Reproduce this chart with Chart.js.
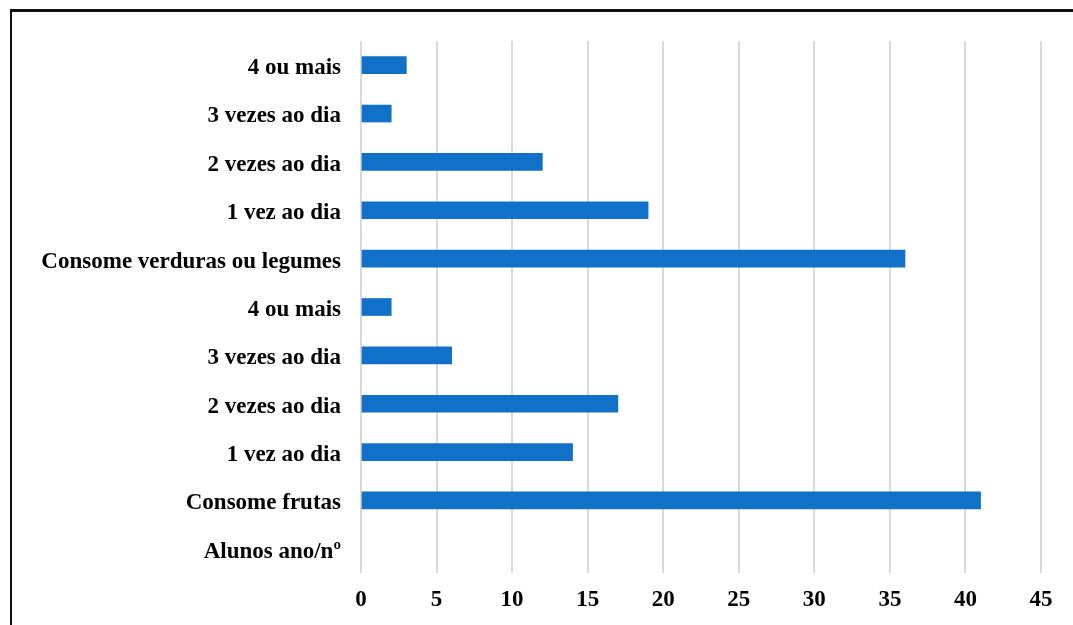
<!DOCTYPE html>
<html>
<head>
<meta charset="utf-8">
<script src="https://cdn.jsdelivr.net/npm/chart.js@4/dist/chart.umd.min.js"></script>
<style>
    html, body { margin: 0; padding: 0; background: #fff; overflow: hidden; }
    #caixa { position: absolute; left: 0; top: 0; width: 1073px; height: 625px; }
    #moldura {
        position: absolute; left: 10px; top: 9px; width: 1100px; height: 700px;
        border-left: 2px solid #111; border-top: 3px solid #111;
    }
</style>
</head>
<body>
<div id="caixa"><canvas id="grafico" width="1073" height="625"></canvas></div>
<div id="moldura"></div>
<script>
// categorias de cima para baixo
const categorias = [
    '4 ou mais', '3 vezes ao dia', '2 vezes ao dia', '1 vez ao dia',
    'Consome verduras ou legumes',
    '4 ou mais', '3 vezes ao dia', '2 vezes ao dia', '1 vez ao dia',
    'Consome frutas', 'Alunos ano/nº'
];
const valores = [3, 2, 12, 19, 36, 2, 6, 17, 14, 41, null];
const ticksX = [0, 5, 10, 15, 20, 25, 30, 35, 40, 45];

const fonte = { family: '"Liberation Serif", "Times New Roman", serif', size: 23, weight: 'bold' };

const ctx = document.getElementById('grafico').getContext('2d');
new Chart(ctx, {
    type: 'bar',
    data: {
        labels: categorias,
        datasets: [{
            label: 'Alunos',
            data: valores,
            backgroundColor: '#1170C8',
            barThickness: 17
        }]
    },
    options: {
        indexAxis: 'y',
        responsive: false,
        animation: false,
        layout: { padding: { left: 0, top: 41, right: 32, bottom: 0 } },
        plugins: {
            legend: { display: false },
            tooltip: { enabled: false }
        },
        scales: {
            x: {
                min: 0,
                max: 45,
                afterBuildTicks: function (scale) {
                    scale.ticks = ticksX.map(v => ({ value: v }));
                },
                afterFit: function (scale) { scale.height = 52; },
                grid: { color: '#d9d9d9', lineWidth: 2, drawTicks: false },
                border: { display: false },
                ticks: { color: '#000', font: fonte, padding: 13, maxRotation: 0 }
            },
            y: {
                afterFit: function (scale) { scale.width = 361; },
                grid: { display: false, drawTicks: false },
                border: { display: false },
                ticks: { color: '#000', font: fonte, padding: 20, autoSkip: false, labelOffset: 3 }
            }
        }
    }
});
</script>
</body>
</html>
